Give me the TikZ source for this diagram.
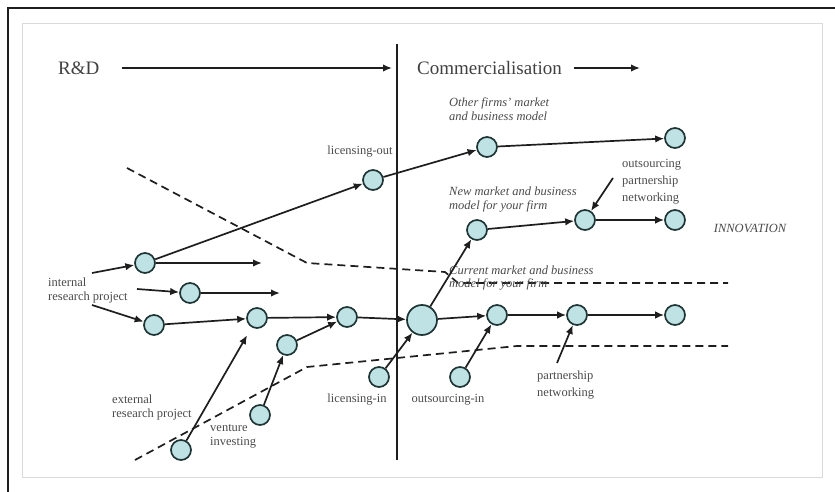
\documentclass[tikz,border=0pt]{standalone}
\usepackage{fontspec}
\setmainfont{Liberation Serif}
\usetikzlibrary{arrows.meta,positioning}
\definecolor{ink}{HTML}{1E1E1E}
\definecolor{soft}{HTML}{4A4A4A}
\definecolor{dot}{HTML}{BFE2E5}
\definecolor{rim}{HTML}{1F3535}
\definecolor{panel}{HTML}{DADADA}
\tikzset{
  >={Latex[length=9pt,width=7.5pt]},
  every node/.style={text=soft},
  stage/.style={circle,draw=rim,line width=1.7pt,fill=dot,minimum size=20pt,inner sep=0pt},
  bigstage/.style={stage,minimum size=30pt},
  flow/.style={->,line width=1.7pt,draw=ink},
  plain/.style={line width=1.7pt,draw=ink},
  boundary/.style={line width=1.7pt,draw=ink,dash pattern=on 8pt off 5pt},
  tag/.style={align=left,inner sep=0pt,font=\fontsize{12.5}{14}\selectfont},
  market/.style={tag,font=\fontsize{12.5}{14}\selectfont\itshape},
  phase/.style={inner sep=0pt,text=ink!85,font=\fontsize{19}{20}\selectfont},
}

\begin{document}
\begin{tikzpicture}[x=1pt,y=-1pt]
\useasboundingbox (0,0) rectangle (835,492);

% frame
\draw[line width=1.4pt,draw=ink] (8,492) -- (8,8) -- (835,8);
\draw[draw=panel,line width=1pt] (22,24) rectangle (822,477);

% phases
\node[phase,anchor=west] (rd) at (58,68) {R\&D};
\coordinate (rdend) at (392,68);
\node[phase,anchor=west] (comm) at (417,68) {Commercialisation};
\coordinate (commend) at (640,68);
\draw[flow] (rd.east) ++(22,0) -- (rdend);
\draw[flow] (comm.east) ++(12,0) -- (commend);
\coordinate (divtop) at (397,44);
\coordinate (divbot) at (397,460);
\draw[plain] (divtop) -- (divbot);

% boundaries of the firm
\draw[boundary] (127,168) -- (307,263) -- (445,272) -- (458,283) -- (728,283);
\draw[boundary] (135,460) -- (307,367) -- (517,346) -- (728,346);

% stages
\node[stage] (a1) at (145,263) {};
\node[stage] (a2) at (190,293) {};
\node[stage] (a3) at (154,325) {};
\node[stage] (m1) at (257,318) {};
\node[stage] (m2) at (347,317) {};
\node[stage] (v1) at (287,345) {};
\node[stage] (v2) at (260,415) {};
\node[stage] (ext) at (181,450) {};
\node[stage] (lin) at (379,377) {};
\node[stage] (lout) at (373,180) {};
\node[bigstage] (hub) at (422,320) {};
\node[stage] (o1) at (487,147) {};
\node[stage] (o2) at (675,138) {};
\node[stage] (n1) at (477,230) {};
\node[stage] (n2) at (585,220) {};
\node[stage] (n3) at (675,220) {};
\node[stage] (c1) at (497,315) {};
\node[stage] (c2) at (577,315) {};
\node[stage] (c3) at (675,315) {};
\node[stage] (oin) at (460,377) {};

% labels (base = last line)
\node[tag,anchor=base west] (intlab) at (48,300) {internal\\research project};
\node[tag,anchor=base west] (extlab) at (112,417) {external\\research project};
\node[tag,anchor=base west] (venlab) at (210,445) {venture\\investing};
\node[tag,anchor=base] (linlab) at (357,402) {licensing-in};
\node[tag,anchor=base] (loutlab) at (360,154) {licensing-out};
\node[tag,anchor=base] (oinlab) at (448,402) {outsourcing-in};
\node[tag,anchor=base west,font=\fontsize{12.5}{17}\selectfont] (pnlab) at (537,396) {partnership\\networking};
\node[tag,anchor=base west,font=\fontsize{12.5}{17}\selectfont] (opnlab) at (622,201) {outsourcing\\partnership\\networking};
\node[market,anchor=base west] (otherlab) at (449,121) {Other firms' market\\and business model};
\node[market,anchor=base west] (newlab) at (449,209) {New market and business\\model for your firm};
\node[market,anchor=base west,font=\fontsize{12.5}{13.5}\selectfont\itshape] (curlab) at (449,287.5) {Current market and business\\model for your firm};
\node[market,anchor=base] (innov) at (750,232) {INNOVATION};

% free ends
\coordinate (ia) at (92,273);
\coordinate (ib) at (137,289);
\coordinate (ic) at (92,305);
\coordinate (a1end) at (262,263);
\coordinate (a2end) at (280,293);
\coordinate (opn) at (613,178);
\coordinate (pn) at (557,363);

% flows
\draw[flow] (ia) -- (a1);
\draw[flow] (ib) -- (a2);
\draw[flow] (ic) -- (a3);
\draw[flow] (a1) -- (a1end);
\draw[flow] (a2) -- (a2end);
\draw[flow] (a3) -- (m1);
\draw[flow] (m1) -- (m2);
\draw[flow] (m2) -- (hub);
\draw[flow] (v1) -- (m2);
\draw[flow] (v2) -- (v1);
\draw[flow,shorten >=9pt] (ext) -- (m1);
\draw[flow] (lin) -- (hub);
\draw[flow] (a1) -- (lout);
\draw[flow] (lout) -- (o1);
\draw[flow] (o1) -- (o2);
\draw[flow] (hub) -- (n1);
\draw[flow] (n1) -- (n2);
\draw[flow] (n2) -- (n3);
\draw[flow] (hub) -- (c1);
\draw[flow] (c1) -- (c2);
\draw[flow] (c2) -- (c3);
\draw[flow] (oin) -- (c1);
\draw[flow] (opn) -- (n2);
\draw[flow] (pn) -- (c2);

\end{tikzpicture}
\end{document}
